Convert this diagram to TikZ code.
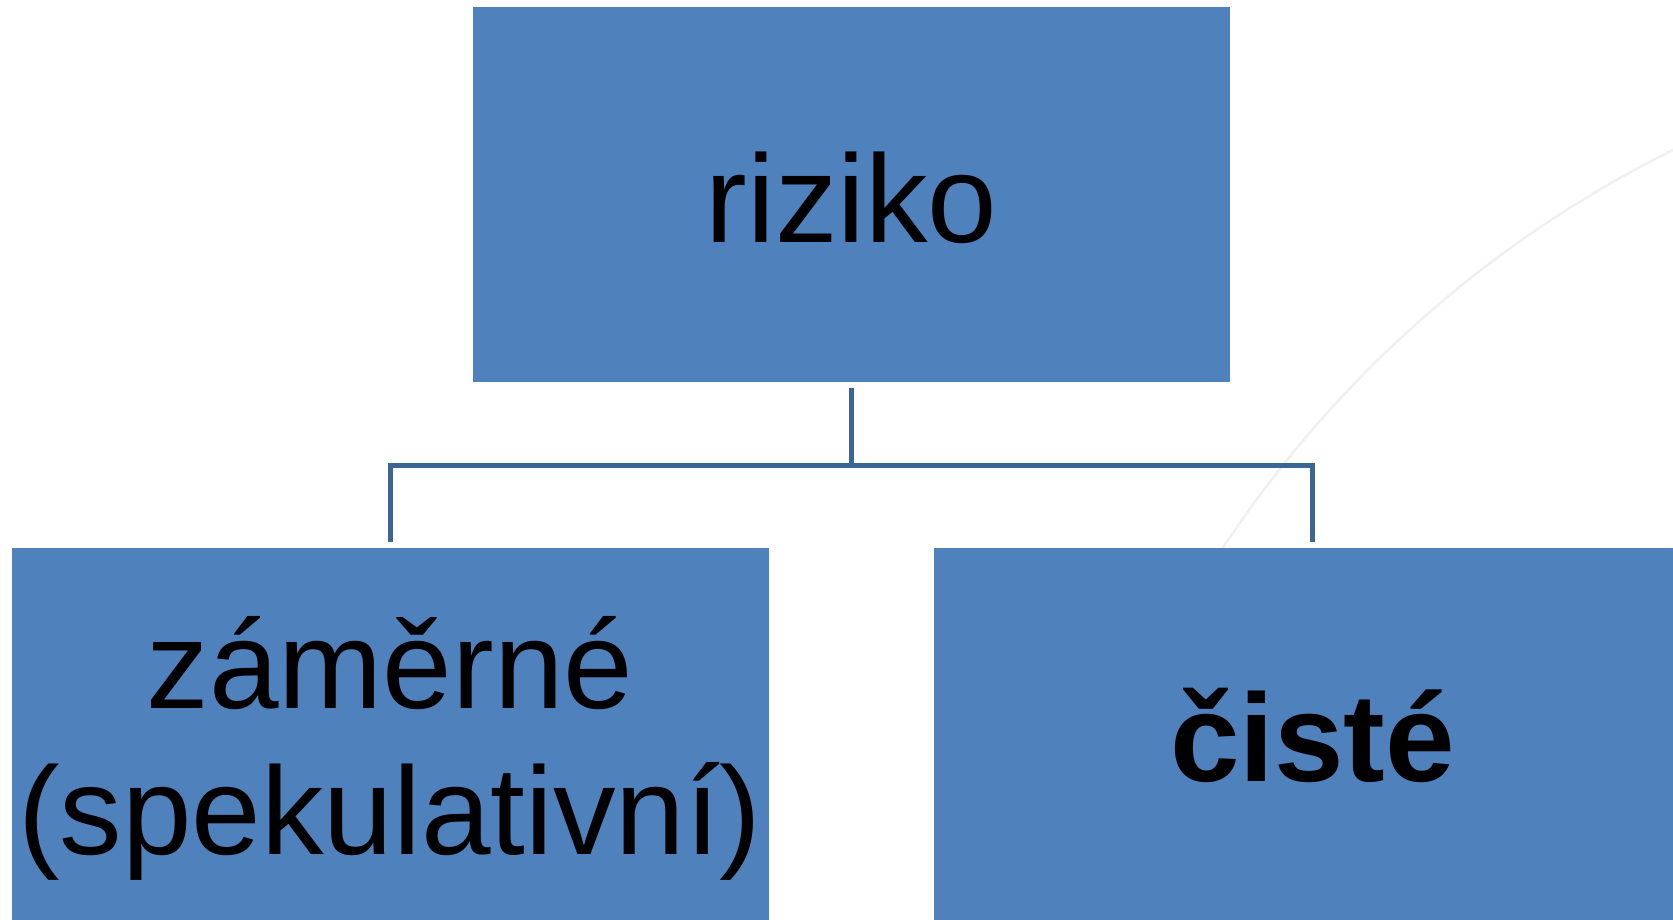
\documentclass[tikz,border=0pt]{standalone}
\usepackage{fontspec}
\setmainfont{Liberation Sans}
\definecolor{boxblue}{HTML}{4F81BD}
\definecolor{connblue}{HTML}{3D6594}
\definecolor{arcgrey}{HTML}{F0F0F0}
\begin{document}
\begin{tikzpicture}[x=1pt,y=-1pt,
  box/.style={fill=boxblue, draw=none, minimum width=757pt, minimum height=375pt,
    inner sep=0pt},
  boxtext/.style={inner sep=0pt, align=center, font=\fontsize{125}{146}\selectfont, text=black},
  conn/.style={draw=connblue, line width=5pt, line join=miter}]
\useasboundingbox (0,0) rectangle (1673,920);
\clip (0,0) rectangle (1673,920);
\fill[white] (0,0) rectangle (1673,920);
% faint background arc
\draw[arcgrey, line width=2.5pt] (2183,1181) circle[radius=1150];
% boxes
\node[box, label={[boxtext, name=toptext, yshift=-3pt]center:riziko}] (top) at (851.5,194.5) {};
\node[box, label={[boxtext, name=lefttext, yshift=-13pt]center:záměrné\\(spekulativní)}] (left) at (390,735.5) {};
\node[box, label={[boxtext, name=righttext, font=\fontsize{125}{146}\selectfont\bfseries]center:čisté}] (right) at (1312.5,735.5) {};
% connectors
\path (top.south) ++(0,83) coordinate (mid);
\draw[conn] ([yshift=-6pt]top.south) -- (mid);
\draw[conn] ([yshift=6pt]left.north) |- (mid) -| ([yshift=6pt]right.north);
\end{tikzpicture}
\end{document}
